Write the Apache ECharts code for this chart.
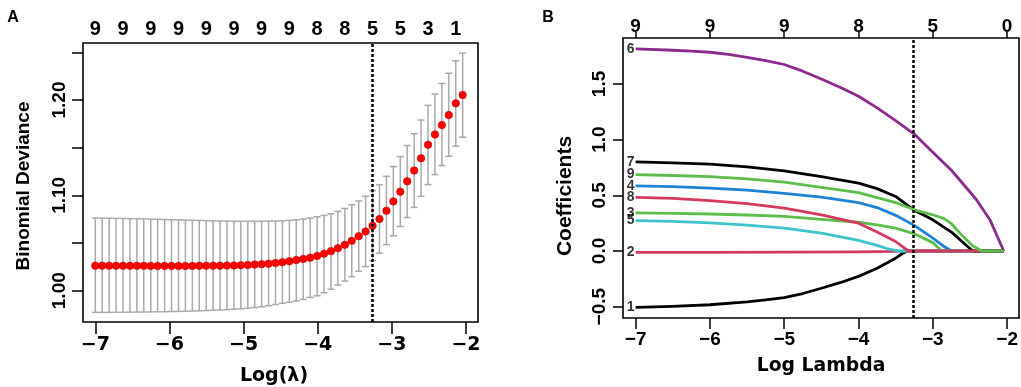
<!DOCTYPE html>
<html>
<head>
<meta charset="utf-8">
<title>LASSO</title>
<script src="https://cdn.jsdelivr.net/npm/echarts@6.0.0/dist/echarts.min.js"></script>
<style>
  *{margin:0;padding:0;}
  body{background:#fff;}
  #main{width:1021px;height:387px;}
</style>
</head>
<body>
<div id="main"></div>
<script type="text/javascript">
// ---- panel A : cross-validation curve ----
var lambdaA = [-7.000,-6.907,-6.813,-6.720,-6.626,-6.533,-6.439,-6.346,-6.252,-6.159,
  -6.065,-5.972,-5.878,-5.785,-5.691,-5.598,-5.504,-5.411,-5.317,-5.224,
  -5.130,-5.037,-4.943,-4.850,-4.756,-4.663,-4.569,-4.476,-4.382,-4.289,
  -4.195,-4.102,-4.008,-3.915,-3.821,-3.728,-3.634,-3.541,-3.447,-3.354,
  -3.260,-3.167,-3.073,-2.980,-2.886,-2.793,-2.699,-2.606,-2.512,-2.419,
  -2.325,-2.232,-2.138,-2.045];
var devianceA = [1.0263,1.0263,1.0262,1.0262,1.0262,1.0261,1.0261,1.0261,1.0260,1.0260,
  1.0260,1.0260,1.0260,1.0260,1.0260,1.0261,1.0261,1.0262,1.0263,1.0264,
  1.0265,1.0267,1.0270,1.0274,1.0278,1.0284,1.0290,1.0299,1.0309,1.0322,
  1.0334,1.0347,1.0365,1.0389,1.0415,1.0446,1.0481,1.0523,1.0572,1.0621,
  1.0681,1.0751,1.0839,1.0937,1.1039,1.1147,1.1260,1.1389,1.1530,1.1639,
  1.1737,1.1842,1.1965,1.2053];
var upperA = [1.0762,1.0761,1.0760,1.0759,1.0758,1.0756,1.0755,1.0753,1.0751,1.0749,
  1.0747,1.0745,1.0743,1.0741,1.0739,1.0737,1.0735,1.0733,1.0731,1.0730,
  1.0729,1.0728,1.0728,1.0728,1.0729,1.0730,1.0731,1.0733,1.0738,1.0744,
  1.0752,1.0762,1.0776,1.0790,1.0807,1.0832,1.0863,1.0902,1.0941,1.0990,
  1.1050,1.1110,1.1200,1.1302,1.1407,1.1523,1.1646,1.1790,1.1944,1.2063,
  1.2173,1.2281,1.2411,1.2492];
var lowerA = [0.9773,0.9773,0.9773,0.9774,0.9774,0.9775,0.9776,0.9777,0.9778,0.9779,
  0.9780,0.9782,0.9783,0.9785,0.9787,0.9789,0.9792,0.9795,0.9798,0.9802,
  0.9806,0.9811,0.9817,0.9824,0.9832,0.9843,0.9855,0.9868,0.9880,0.9892,
  0.9909,0.9930,0.9947,0.9979,1.0015,1.0060,1.0102,1.0147,1.0204,1.0253,
  1.0316,1.0394,1.0484,1.0576,1.0674,1.0768,1.0874,1.0990,1.1113,1.1218,
  1.1313,1.1410,1.1516,1.1610];
var topIndexA = [0,4,8,12,16,20,24,28,32,36,40,44,48,52];
var topCountA = [9,9,9,9,9,9,9,9,8,8,5,5,3,1];
var yTicksA = [1.00,1.05,1.10,1.15,1.20,1.25];
var yLabelsA = [1.00,1.10,1.20];

// ---- panel B : coefficient paths ----
var coef1 = [[-7,-0.506],[-6.5,-0.497],[-6,-0.483],[-5.5,-0.457],[-5.25,-0.440],[-5,-0.418],[-4.75,-0.382],[-4.5,-0.335],[-4.25,-0.285],[-4,-0.228],[-3.75,-0.155],[-3.5,-0.065],[-3.4,-0.018],[-3.33,0],[-2.045,0]];
var coef2 = [[-7,-0.012],[-6,-0.012],[-5,-0.011],[-4,-0.008],[-3.5,-0.004],[-3.33,0],[-2.045,0]];
var coef3 = [[-7,0.342],[-6.5,0.338],[-6,0.332],[-5.5,0.323],[-5,0.310],[-4.5,0.283],[-4,0.258],[-3.75,0.235],[-3.5,0.205],[-3.25,0.155],[-3.0,0.075],[-2.88,0],[-2.045,0]];
var coef4 = [[-7,0.584],[-6.5,0.578],[-6,0.565],[-5.5,0.547],[-5,0.517],[-4.5,0.483],[-4,0.435],[-3.75,0.390],[-3.5,0.320],[-3.25,0.230],[-3.0,0.115],[-2.86,0.045],[-2.75,0],[-2.045,0]];
var coef5 = [[-7,0.273],[-6.5,0.265],[-6,0.253],[-5.5,0.232],[-5,0.205],[-4.5,0.160],[-4,0.095],[-3.75,0.050],[-3.62,0.022],[-3.47,0],[-2.045,0]];
var coef6 = [[-7,1.815],[-6.5,1.803],[-6.25,1.795],[-6,1.785],[-5.75,1.765],[-5.5,1.738],[-5.25,1.710],[-5,1.675],[-4.75,1.615],[-4.5,1.545],[-4.25,1.470],[-4,1.390],[-3.75,1.285],[-3.5,1.170],[-3.25,1.050],[-3.0,0.887],[-2.75,0.725],[-2.5,0.530],[-2.41,0.458],[-2.23,0.279],[-2.045,0]];
var coef7 = [[-7,0.800],[-6.5,0.792],[-6,0.780],[-5.5,0.755],[-5,0.720],[-4.5,0.667],[-4,0.610],[-3.75,0.560],[-3.5,0.490],[-3.25,0.365],[-3.0,0.280],[-2.75,0.170],[-2.54,0.045],[-2.46,0],[-2.045,0]];
var coef8 = [[-7,0.482],[-6.5,0.472],[-6,0.452],[-5.5,0.425],[-5,0.385],[-4.5,0.325],[-4,0.250],[-3.75,0.170],[-3.5,0.085],[-3.44,0.054],[-3.33,0],[-2.045,0]];
var coef9 = [[-7,0.686],[-6.5,0.678],[-6,0.667],[-5.5,0.648],[-5,0.618],[-4.5,0.572],[-4,0.525],[-3.75,0.480],[-3.5,0.435],[-3.25,0.370],[-3.0,0.325],[-2.85,0.290],[-2.75,0.245],[-2.59,0.129],[-2.46,0.045],[-2.34,0],[-2.045,0]];
var coefNames = ['1','2','3','4','5','6','7','8','9'];
var topTicksB = [-7,-6,-5,-4,-3,-2];
var topCountB = [9,9,9,8,5,0];
var yTicksB = [-0.5,0,0.5,1.0,1.5];
var lambdaMin = -3.26;

var coefs = [coef1,coef2,coef3,coef4,coef5,coef6,coef7,coef8,coef9];
var colors = ['#000000','#D6395E','#5DBE4B','#1F83D3','#3DC3CA','#8C2B8E','#000000','#D6395E','#5DBE4B'];
var xTicks = [-7,-6,-5,-4,-3,-2];
var topPosA = topIndexA.map(function(i){ return lambdaA[i]; });

function minus(v, d){
  var s = Math.abs(v).toFixed(d);
  return (v < -1e-9 ? '\u2212' : '') + s;
}
var FA = 'DejaVu Sans';
var FL = 'Liberation Sans';

var myChart = echarts.init(document.getElementById('main'));
var option = {
  animation:false,
  grid:[
    {left:83, top:43, width:395, height:279, show:true, borderColor:'#000', borderWidth:1.6},
    {left:623, top:38, width:396, height:280, show:true, borderColor:'#000', borderWidth:1.6}
  ],
  xAxis:[
    {gridIndex:0, type:'value', min:-7.166, max:-1.838,
      axisLine:{show:false, onZero:false}, splitLine:{show:false},
      axisTick:{customValues:xTicks, length:12, lineStyle:{color:'#000', width:1.5}},
      axisLabel:{customValues:xTicks, formatter:function(v){return minus(v,0);}, color:'#000',
        fontSize:19, fontWeight:'bold', fontFamily:FA, margin:14}},
    {gridIndex:0, type:'value', position:'top', min:-7.166, max:-1.838,
      axisLine:{show:false, onZero:false}, splitLine:{show:false}, axisTick:{show:false},
      axisLabel:{customValues:topPosA, color:'#000', fontSize:20, fontWeight:'bold', fontFamily:FL, margin:4,
        formatter:function(v){
          for(var i=0;i<topPosA.length;i++){ if(Math.abs(topPosA[i]-v)<1e-6) return String(topCountA[i]); }
          return '';
        }}},
    {gridIndex:1, type:'value', min:-7.17, max:-1.84,
      axisLine:{show:false, onZero:false}, splitLine:{show:false},
      axisTick:{customValues:xTicks, length:11, lineStyle:{color:'#000', width:1.5}},
      axisLabel:{customValues:xTicks, formatter:function(v){return minus(v,0);}, color:'#000',
        fontSize:19, fontWeight:'bold', fontFamily:FL, margin:12}},
    {gridIndex:1, type:'value', position:'top', min:-7.17, max:-1.84,
      axisLine:{show:false, onZero:false}, splitLine:{show:false},
      axisTick:{customValues:topTicksB, length:6, lineStyle:{color:'#000', width:1.5}},
      axisLabel:{customValues:topTicksB, color:'#000', fontSize:19, fontWeight:'bold', fontFamily:FL, margin:2,
        formatter:function(v){
          var i = topTicksB.indexOf(Math.round(v));
          return i >= 0 ? String(topCountB[i]) : '';
        }}}
  ],
  yAxis:[
    {gridIndex:0, type:'value', min:0.9672, max:1.2598,
      axisLine:{show:false, onZero:false}, splitLine:{show:false},
      axisTick:{customValues:yTicksA, length:11, lineStyle:{color:'#000', width:1.5}},
      axisLabel:{customValues:yLabelsA, rotate:90, formatter:function(v){return v.toFixed(2);}, color:'#000',
        fontSize:19, fontWeight:'bold', fontFamily:FL, margin:14}},
    {gridIndex:1, type:'value', min:-0.602, max:1.913,
      axisLine:{show:false, onZero:false}, splitLine:{show:false},
      axisTick:{customValues:yTicksB, length:10, lineStyle:{color:'#000', width:1.5}},
      axisLabel:{customValues:yTicksB, rotate:90, formatter:function(v){return minus(v,1);}, color:'#000',
        fontSize:19, fontWeight:'bold', fontFamily:FL, margin:14}}
  ],
  graphic:[
    {type:'text', x:13, y:18, style:{text:'A', align:'center', verticalAlign:'middle', font:'bold 16px "Liberation Sans"', fill:'#000'}},
    {type:'text', x:548, y:18, style:{text:'B', align:'center', verticalAlign:'middle', font:'bold 16px "Liberation Sans"', fill:'#000'}},
    {type:'text', x:24, y:186, rotation:Math.PI/2, style:{text:'Binomial Deviance', align:'center', verticalAlign:'middle', font:'bold 19px "Liberation Sans"', fill:'#000'}},
    {type:'text', x:565, y:196, rotation:Math.PI/2, style:{text:'Coefficients', align:'center', verticalAlign:'middle', font:'bold 21px "Liberation Sans"', fill:'#000'}},
    {type:'text', x:274, y:376, style:{text:'Log(\u03bb)', align:'center', verticalAlign:'middle', font:'bold 19px "DejaVu Sans"', fill:'#000'}},
    {type:'text', x:821, y:366, style:{text:'Log Lambda', align:'center', verticalAlign:'middle', font:'bold 18.8px "DejaVu Sans"', fill:'#000'}}
  ],
  series:[]
};

// error bars
option.series.push({
  type:'custom', xAxisIndex:0, yAxisIndex:0,
  data: lambdaA.map(function(x,i){ return [x, lowerA[i], upperA[i]]; }),
  encode:{x:0, y:[1,2]},
  renderItem:function(params, api){
    var hi = api.coord([api.value(0), api.value(2)]);
    var lo = api.coord([api.value(0), api.value(1)]);
    var w = 3.5;
    var st = {stroke:'#A9A9A9', lineWidth:1.5};
    return {type:'group', children:[
      {type:'line', shape:{x1:hi[0], y1:hi[1], x2:lo[0], y2:lo[1]}, style:st},
      {type:'line', shape:{x1:hi[0]-w, y1:hi[1], x2:hi[0]+w, y2:hi[1]}, style:st},
      {type:'line', shape:{x1:lo[0]-w, y1:lo[1], x2:lo[0]+w, y2:lo[1]}, style:st}
    ]};
  },
  markLine:{silent:true, symbol:'none', label:{show:false},
    lineStyle:{type:[3,2], width:2.5, color:'#000'}, data:[{xAxis:lambdaMin}]}
});
option.series.push({
  type:'scatter', xAxisIndex:0, yAxisIndex:0, symbolSize:7.5,
  itemStyle:{color:'#FF0000', borderColor:'#C80000', borderWidth:0.6, opacity:1},
  data: lambdaA.map(function(x,i){ return [x, devianceA[i]]; })
});

// coefficient paths
coefs.forEach(function(c, k){
  option.series.push({
    type:'line', xAxisIndex:2, yAxisIndex:1, data:c, showSymbol:false, symbol:'none',
    lineStyle:{color:colors[k], width:2.8, join:'round'}, itemStyle:{color:colors[k]}
  });
});
option.series.push({
  type:'scatter', xAxisIndex:2, yAxisIndex:1, symbolSize:0.1,
  itemStyle:{color:'rgba(0,0,0,0)'},
  data: coefs.map(function(c,k){ return [c[0][0], c[0][1], coefNames[k]]; }),
  label:{show:true, position:'left', distance:1, color:'#000', fontSize:14, fontWeight:'bold', fontFamily:FL,
    formatter:function(p){ return p.value[2]; }},
  markLine:{silent:true, symbol:'none', label:{show:false},
    lineStyle:{type:[3,2], width:2.5, color:'#000'}, data:[{xAxis:lambdaMin}]}
});

myChart.setOption(option);
</script>
</body>
</html>
